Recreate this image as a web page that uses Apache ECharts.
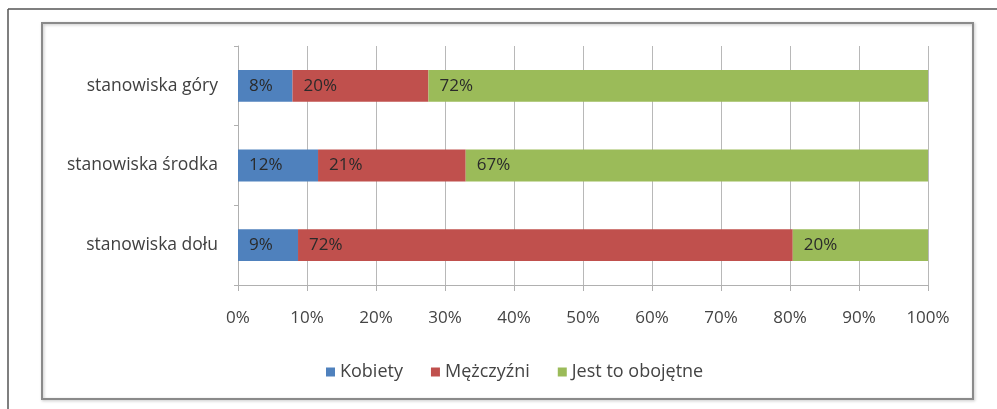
<!DOCTYPE html>
<html>
<head>
<meta charset="utf-8">
<script src="https://cdn.jsdelivr.net/npm/echarts@6/dist/echarts.min.js"></script>
<style>
  html, body { margin: 0; padding: 0; background: #fff; }
  #chart { width: 997px; height: 409px; }
</style>
</head>
<body>
<div id="chart"></div>
<script>
var categories = ['stanowiska dołu', 'stanowiska środka', 'stanowiska góry'];
var kobiety = [8.7, 11.6, 7.9];
var mezczyzni = [71.7, 21.4, 19.7];
var obojetne = [19.6, 67.0, 72.4];
var tickLabels = ['0%', '10%', '20%', '30%', '40%', '50%', '60%', '70%', '80%', '90%', '100%'];

var fontName = 'Open Sans';

function barSeries(name, data, color) {
    return {
        name: name,
        type: 'bar',
        stack: 'all',
        barWidth: '40%',
        data: data,
        itemStyle: { color: color },
        label: {
            show: true,
            position: 'insideLeft',
            distance: 11,
            color: '#2a2a2a',
            fontFamily: fontName,
            fontSize: 17,
            formatter: function (p) { return Math.round(p.value) + '%'; }
        }
    };
}

var chart = echarts.init(document.getElementById('chart'));
chart.setOption({
    animation: false,
    backgroundColor: '#fff',
    graphic: [
        { type: 'line', shape: { x1: 8, y1: 9, x2: 997, y2: 9 }, style: { stroke: '#555', lineWidth: 1.5 } },
        { type: 'line', shape: { x1: 8, y1: 9, x2: 8, y2: 409 }, style: { stroke: '#555', lineWidth: 1.5 } },
        { type: 'rect', shape: { x: 42, y: 23, width: 931, height: 376 },
          style: { fill: 'none', stroke: '#8a8a8a', lineWidth: 2, shadowBlur: 3, shadowColor: 'rgba(0,0,0,0.25)', shadowOffsetX: 1, shadowOffsetY: 1 } }
    ],
    legend: {
        bottom: 23,
        left: 321,
        itemWidth: 9,
        itemHeight: 9,
        itemGap: 28,
        icon: 'rect',
        textStyle: { fontFamily: fontName, fontSize: 18, color: '#444' },
        data: ['Kobiety', 'Mężczyźni', 'Jest to obojętne']
    },
    grid: { left: 238, right: 69, top: 46, bottom: 124 },
    xAxis: {
        type: 'value',
        min: 0,
        max: 100,
        interval: 10,
        axisLine: { show: true, lineStyle: { color: '#b0b0b0' } },
        axisTick: { show: true, length: 6, lineStyle: { color: '#b0b0b0' } },
        splitLine: { show: true, lineStyle: { color: '#b8b8b8' } },
        axisLabel: {
            margin: 25,
            fontFamily: fontName,
            fontSize: 17,
            color: '#444',
            formatter: function (v) { return tickLabels[Math.round(v / 10)]; }
        }
    },
    yAxis: {
        type: 'category',
        data: categories,
        axisLine: { show: true, lineStyle: { color: '#b0b0b0' } },
        axisTick: { show: true, length: 4, lineStyle: { color: '#b0b0b0' } },
        axisLabel: { margin: 20, fontFamily: fontName, fontSize: 17.5, color: '#404040' }
    },
    series: [
        barSeries('Kobiety', kobiety, '#4f81bd'),
        barSeries('Mężczyźni', mezczyzni, '#c0504d'),
        barSeries('Jest to obojętne', obojetne, '#9bbb59')
    ]
});
</script>
</body>
</html>
